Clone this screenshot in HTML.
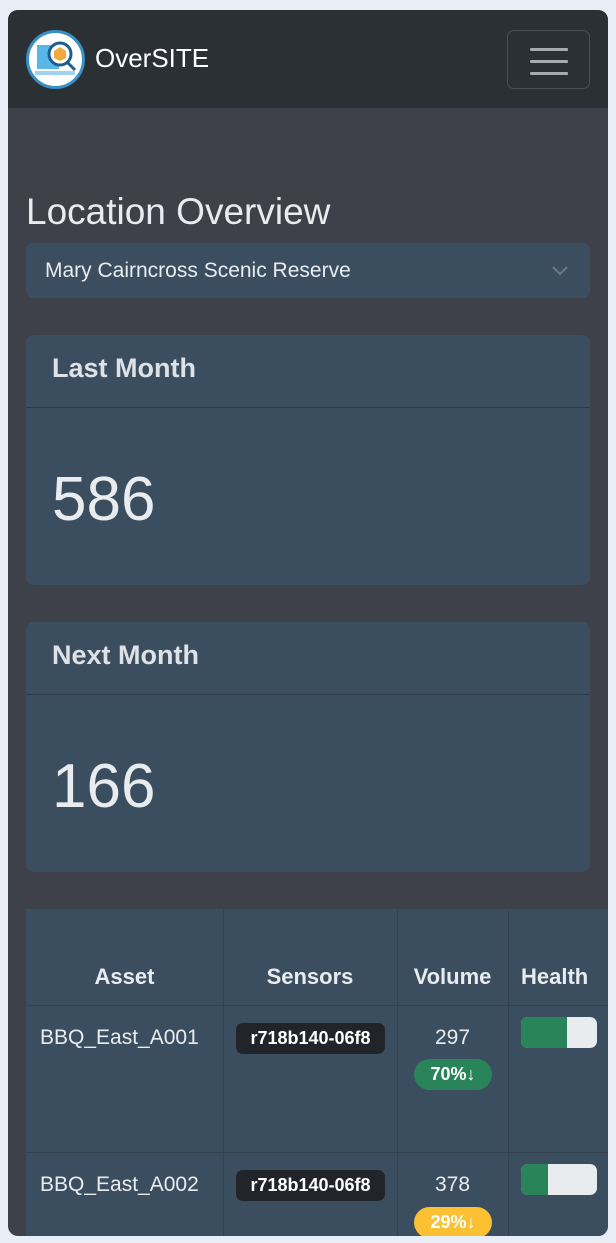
<!DOCTYPE html>
<html><head><meta charset="utf-8">
<style>
*{box-sizing:border-box;margin:0;padding:0}
body{width:616px;height:1243px;background:#e9edf5;font-family:"Liberation Sans",sans-serif;color:#dee2e6;overflow:hidden;position:relative}
#frame{position:absolute;left:8px;top:10px;width:600px;height:1226px;background:#3e414a;border-radius:10px;overflow:hidden}
#nav{position:absolute;left:0;top:0;width:600px;height:98px;background:#2b3035}
#logo{position:absolute;left:18px;top:20px;width:59px;height:59px;border-radius:50%;background:#fff;border:3px solid #3a8fc4}
#brand{position:absolute;left:87px;top:33px;font-size:26px;color:#fff}
#toggler{position:absolute;left:499px;top:20px;width:83px;height:59px;border:1px solid #4a4f55;border-radius:7px}
#toggler span{position:absolute;left:22px;width:38px;height:3px;background:#a8abae;border-radius:1px}
h1{position:absolute;left:18px;top:181px;font-size:37px;font-weight:300;color:#e9ecef}
#select{position:absolute;left:18px;top:233px;width:564px;height:55px;background:#3b4e60;border-radius:7px;font-size:21px;padding:16px 0 0 19px;color:#e9ecef}
.card{position:absolute;left:18px;width:564px;height:250px;background:#3b4e60;border-radius:8px}
.card .hd{height:73px;border-bottom:1px solid #2c3a47;font-size:27px;font-weight:bold;padding:18px 0 0 26px}
.card .num{font-size:62px;font-weight:300;padding:56px 0 0 26px;color:#e9ecef}
#tbl{position:absolute;left:18px;top:899px;width:590px;height:340px;background:#3b4e60}
.vl{position:absolute;top:0;width:1px;height:340px;background:#33424f}
.hl{position:absolute;left:0;width:590px;height:1px;background:#33424f}
.th{position:absolute;top:55px;font-weight:bold;font-size:22px;text-align:center;color:#e9ecef}
.td{position:absolute;font-size:21px;color:#e9ecef}
.badge{position:absolute;background:#212529;color:#fff;font-weight:bold;font-size:18px;border-radius:7px;width:149px;height:31px;text-align:center;line-height:31px}
.pill{position:absolute;left:388px;width:78px;height:31px;border-radius:16px;font-weight:bold;font-size:18px;text-align:center;line-height:31px}
.bar{position:absolute;left:495px;width:76px;height:31px;background:#e9ecef;border-radius:7px;overflow:hidden}
.bar div{height:100%;background:#2a8459}
</style></head><body>
<div id="frame">
 <div id="nav">
  <div id="logo"><svg width="53" height="53" viewBox="0 0 53 53"><rect x="8" y="12" width="22" height="24" fill="#5bb6e8"/><circle cx="31" cy="21" r="11" fill="#fff" stroke="#1c5f8f" stroke-width="3"/><polygon points="31,14 37,18 37,25 31,28 25,25 25,18" fill="#f2a93b"/><line x1="38" y1="29" x2="46" y2="37" stroke="#1c5f8f" stroke-width="3"/><rect x="6" y="38" width="40" height="4" fill="#9fd3f2"/></svg></div>
  <div id="brand">OverSITE</div>
  <div id="toggler"><span style="top:17px"></span><span style="top:29px"></span><span style="top:41px"></span></div>
 </div>
 <h1>Location Overview</h1>
 <div id="select">Mary Cairncross Scenic Reserve<svg style="position:absolute;right:22px;top:23px" width="16" height="10"><polyline points="1,1 8,8 15,1" fill="none" stroke="#6c7a88" stroke-width="2"/></svg></div>
 <div class="card" style="top:325px"><div class="hd">Last Month</div><div class="num">586</div></div>
 <div class="card" style="top:612px"><div class="hd">Next Month</div><div class="num">166</div></div>
 <div id="tbl">
  <div class="vl" style="left:197px"></div><div class="vl" style="left:371px"></div><div class="vl" style="left:482px"></div>
  <div class="hl" style="top:96px"></div><div class="hl" style="top:243px"></div>
  <div class="th" style="left:0;width:197px">Asset</div>
  <div class="th" style="left:197px;width:174px">Sensors</div>
  <div class="th" style="left:371px;width:111px">Volume</div>
  <div class="th" style="left:482px;width:108px;text-align:left;padding-left:13px">Health</div>
  <div class="td" style="left:14px;top:117px">BBQ_East_A001</div>
  <div class="badge" style="left:210px;top:114px">r718b140-06f8</div>
  <div class="td" style="left:371px;width:111px;text-align:center;top:117px">297</div>
  <div class="pill" style="top:150px;background:#2a8459;color:#fff">70%↓</div>
  <div class="bar" style="top:108px"><div style="width:60%"></div></div>
  <div class="td" style="left:14px;top:264px">BBQ_East_A002</div>
  <div class="badge" style="left:210px;top:261px">r718b140-06f8</div>
  <div class="td" style="left:371px;width:111px;text-align:center;top:264px">378</div>
  <div class="pill" style="top:298px;background:#fbc133;color:#fff">29%↓</div>
  <div class="bar" style="top:255px"><div style="width:36%"></div></div>
 </div>
</div>
</body></html>
